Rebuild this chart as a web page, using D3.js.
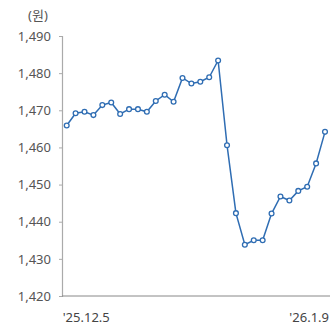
<!DOCTYPE html>
<html><head><meta charset="utf-8">
<script src="https://cdn.jsdelivr.net/npm/d3@7"></script>
<style>
html,body{margin:0;padding:0;background:#fff;}
svg{display:block;}
text{font-family:"Noto Sans","Noto Sans CJK KR",sans-serif;}
</style></head>
<body><svg id="c" width="335" height="328"></svg>
<script>
const values = [1465.9,1469.2,1469.6,1468.7,1471.4,1472.1,1469.0,1470.3,1470.3,1469.6,
  1472.5,1474.2,1472.3,1478.7,1477.2,1477.7,1478.9,1483.4,
  1460.6,1442.3,1433.8,1435.0,1435.0,1442.2,1446.8,1445.7,1448.3,1449.4,1455.7,1464.2];
const yTicks = [1420,1430,1440,1450,1460,1470,1480,1490];
const xLabels = [{i:0,text:"'25.12.5"},{i:29,text:"'26.1.9"}];
const unitLabel = "(원)";

const svg = d3.select("#c");
const x = d3.scaleLinear().domain([0, values.length-1]).range([66.7, 325]);
const y = d3.scaleLinear().domain([1420,1490]).range([296, 36]);

const yAxis = svg.append("g").attr("transform","translate(62,0)")
  .call(d3.axisLeft(y).tickValues(yTicks).tickSize(3).tickPadding(8).tickFormat(d3.format(",")));
yAxis.select(".domain").attr("stroke","#aaa").attr("stroke-width",1.2);
yAxis.selectAll(".tick line").attr("stroke","#aaa");
yAxis.selectAll(".tick text").attr("fill","#555").attr("font-size","13px");

svg.append("line").attr("x1",62).attr("x2",330).attr("y1",y(1420)).attr("y2",y(1420))
  .attr("stroke","#888").attr("stroke-width",1);

svg.append("text").attr("x",38).attr("y",20).attr("text-anchor","middle")
  .attr("fill","#555").attr("font-size","13px").text(unitLabel);

svg.selectAll(".xl").data(xLabels).enter().append("text")
  .attr("x",d=>d.i===0? x(d.i)-4 : x(d.i)+4)
  .attr("text-anchor",d=>d.i===0?"start":"end")
  .attr("y",322).attr("fill","#444").attr("font-size","13px").text(d=>d.text);

const line = d3.line().x((d,i)=>x(i)).y(d=>y(d));
svg.append("path").datum(values).attr("d",line).attr("fill","none")
  .attr("stroke","#2f6db3").attr("stroke-width",1.5);
svg.selectAll("circle").data(values).enter().append("circle")
  .attr("cx",(d,i)=>x(i)).attr("cy",d=>y(d)).attr("r",2.4)
  .attr("fill","#fff").attr("stroke","#2f6db3").attr("stroke-width",1.3);
</script></body></html>
